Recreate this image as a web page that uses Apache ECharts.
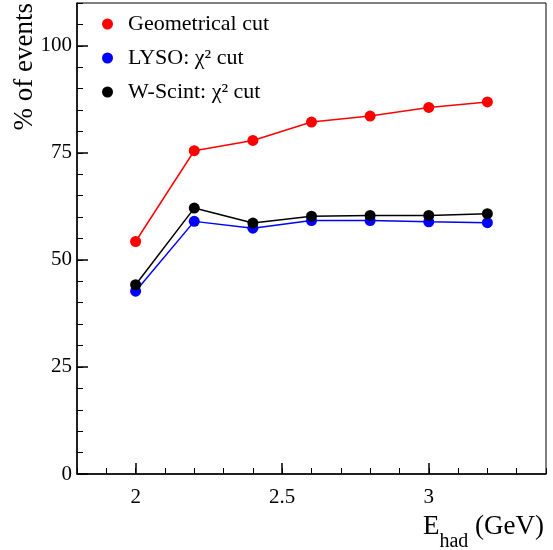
<!DOCTYPE html>
<html>
<head>
<meta charset="utf-8">
<script src="https://cdn.jsdelivr.net/npm/echarts@6/dist/echarts.min.js"></script>
<style>
html,body{margin:0;padding:0;background:#fff;}
#chart{width:553px;height:550px;}
</style>
</head>
<body>
<div id="chart"></div>
<script>
var energies = [2.0, 2.2, 2.4, 2.6, 2.8, 3.0, 3.2];
var geomCut = [54.3, 75.5, 77.9, 82.2, 83.6, 85.6, 86.9];
var lysoChi2 = [42.7, 59.0, 57.4, 59.2, 59.2, 58.9, 58.7];
var wScintChi2 = [44.2, 62.1, 58.6, 60.2, 60.4, 60.4, 60.8];
var xMajorLabels = [2, 2.5, 3];
var seriesNames = ['Geometrical cut', 'LYSO: χ² cut', 'W-Scint: χ² cut'];

function pairs(ys) { return energies.map(function (x, i) { return [x, ys[i]]; }); }

var FONT = 'Liberation Serif';
var chart = echarts.init(document.getElementById('chart'), null, {renderer: 'canvas'});

function mkSeries(name, ys, color, z) {
  return {
    name: name, type: 'line', data: pairs(ys), z: z,
    xAxisIndex: 0, yAxisIndex: 0,
    symbol: 'circle', symbolSize: 11, showSymbol: true,
    lineStyle: {color: color, width: 1.5},
    itemStyle: {color: color},
    emphasis: {disabled: true},
    animation: false
  };
}

chart.setOption({
  animation: false,
  backgroundColor: '#fff',
  textStyle: {fontFamily: FONT, color: '#000'},
  grid: {left: 77, right: 7, top: 3, bottom: 76, show: true, borderColor: '#000', borderWidth: 1, containLabel: false},
  legend: {
    orient: 'vertical', left: 97, top: 7, itemGap: 10,
    itemWidth: 11, itemHeight: 11, icon: 'circle',
    data: seriesNames,
    textStyle: {fontFamily: FONT, fontSize: 22, lineHeight: 24, color: '#000', padding: [0, 0, 0, 10]}
  },
  xAxis: [{
    type: 'value', min: 1.8, max: 3.4, position: 'bottom',
    axisLine: {show: true, lineStyle: {color: '#000', width: 1.5}},
    axisTick: {show: true, inside: true, length: 11, customValues: xMajorLabels, lineStyle: {color: '#000', width: 1.5}},
    axisLabel: {show: true, customValues: xMajorLabels, margin: 13, fontFamily: FONT, fontSize: 21, color: '#000',
      formatter: function (v) { return String(v); }},
    splitLine: {show: false}
  }, {
    type: 'value', min: 1.8, max: 3.4, interval: 0.1, position: 'bottom',
    axisLine: {show: false},
    axisTick: {show: true, inside: true, length: 6, lineStyle: {color: '#000', width: 1}},
    axisLabel: {show: false},
    splitLine: {show: false}
  }],
  yAxis: [{
    type: 'value', min: 0, max: 110, interval: 25, position: 'left',
    axisLine: {show: true, lineStyle: {color: '#000', width: 1.5}},
    axisTick: {show: true, inside: true, length: 11, lineStyle: {color: '#000', width: 1.5}},
    axisLabel: {show: true, margin: 5, fontFamily: FONT, fontSize: 21, color: '#000',
      showMaxLabel: false},
    splitLine: {show: false}
  }, {
    type: 'value', min: 0, max: 110, interval: 5, position: 'left',
    axisLine: {show: false},
    axisTick: {show: true, inside: true, length: 6, lineStyle: {color: '#000', width: 1}},
    axisLabel: {show: false},
    splitLine: {show: false}
  }],
  graphic: [{
    type: 'text', x: 25, y: 3, rotation: Math.PI / 2,
    style: {text: '% of events', font: '27px "Liberation Serif"', fill: '#000', textAlign: 'right', textVerticalAlign: 'middle'}
  }, {
    type: 'text', x: 544, y: 513,
    style: {
      text: '{e|E}{s|had}{e| (GeV)}', textAlign: 'right', textVerticalAlign: 'top',
      rich: {
        e: {fontFamily: FONT, fontSize: 27, fill: '#000', lineHeight: 29, verticalAlign: 'top'},
        s: {fontFamily: FONT, fontSize: 20, fill: '#000', lineHeight: 39, verticalAlign: 'bottom'}
      }
    }
  }],
  series: [
    mkSeries(seriesNames[0], geomCut, '#ff0000', 3),
    mkSeries(seriesNames[1], lysoChi2, '#0000ff', 3),
    mkSeries(seriesNames[2], wScintChi2, '#000000', 4)
  ]
});
</script>
</body>
</html>
